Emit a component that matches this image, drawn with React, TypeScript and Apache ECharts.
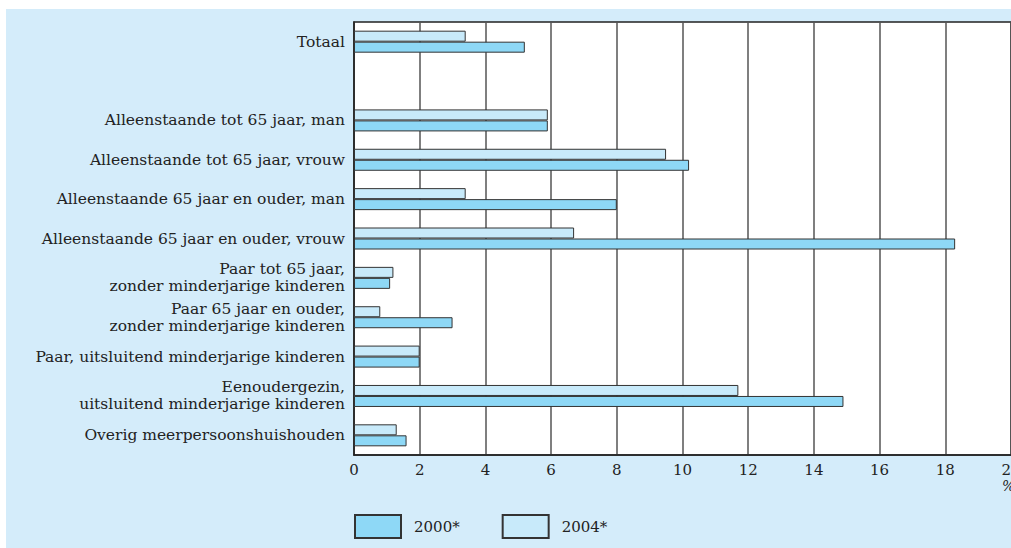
import React, { useEffect, useRef } from "react";
import * as echarts from "echarts";

const categories = [
  "Totaal",
  "",
  "Alleenstaande tot 65 jaar, man",
  "Alleenstaande tot 65 jaar, vrouw",
  "Alleenstaande 65 jaar en ouder, man",
  "Alleenstaande 65 jaar en ouder, vrouw",
  "Paar tot 65 jaar,\nzonder minderjarige kinderen",
  "Paar 65 jaar en ouder,\nzonder minderjarige kinderen",
  "Paar, uitsluitend minderjarige kinderen",
  "Eenoudergezin,\nuitsluitend minderjarige kinderen",
  "Overig meerpersoonshuishouden",
];

const values2000 = [5.2, null, 5.9, 10.2, 8.0, 18.3, 1.1, 3.0, 2.0, 14.9, 1.6];
const values2004 = [3.4, null, 5.9, 9.5, 3.4, 6.7, 1.2, 0.8, 2.0, 11.7, 1.3];

const xTicks = { min: 0, max: 20, interval: 2 };

const FONT = "DejaVu Serif";

export default function App() {
  const ref = useRef<HTMLDivElement>(null);
  useEffect(() => {
    const chart = echarts.init(ref.current!, null, { renderer: "svg" });
    chart.setOption({
      animation: false,
      backgroundColor: "#ffffff",
      graphic: [
        {
          type: "rect",
          z: -10,
          silent: true,
          shape: { x: 6, y: 9, width: 1005, height: 539 },
          style: { fill: "#d4ecfa" },
        },
        {
          type: "text",
          left: 1002,
          top: 479,
          style: { text: "%", font: `italic 14px "${FONT}"`, fill: "#222" },
        },
      ],
      grid: {
        left: 354,
        top: 22,
        right: 0,
        bottom: 93,
        outerBoundsMode: "none",
        containLabel: false,
        show: true,
        backgroundColor: "#ffffff",
        borderColor: "#222",
        borderWidth: 1.5,
      },
      legend: {
        left: 354,
        top: 514,
        padding: 0,
        itemWidth: 46,
        itemHeight: 23,
        itemGap: 42,
        icon: "rect",
        data: ["2000*", "2004*"],
        textStyle: {
          fontFamily: FONT,
          fontSize: 15,
          color: "#222",
          padding: [8, 0, 0, 8],
        },
      },
      xAxis: {
        type: "value",
        min: xTicks.min,
        max: xTicks.max,
        interval: xTicks.interval,
        axisLine: { show: true, lineStyle: { color: "#222", width: 1.5 } },
        axisTick: { show: false },
        axisLabel: {
          fontFamily: FONT,
          fontSize: 15,
          color: "#222",
          margin: 7,
          showMaxLabel: true,
        },
        splitLine: { show: true, lineStyle: { color: "#555", width: 1.5 } },
      },
      yAxis: {
        type: "category",
        inverse: true,
        data: categories,
        axisLine: { show: true, lineStyle: { color: "#222", width: 1.5 } },
        axisTick: { show: false },
        axisLabel: {
          fontFamily: FONT,
          fontSize: 15.5,
          color: "#222",
          margin: 9,
          lineHeight: 17,
          align: "right",
          interval: 0,
        },
      },
      series: [
        {
          name: "2004*",
          type: "bar",
          data: values2004,
          barWidth: 11,
          barGap: "0%",
          itemStyle: { color: "#c8eafa", borderColor: "#333", borderWidth: 1 },
        },
        {
          name: "2000*",
          type: "bar",
          data: values2000,
          barWidth: 11,
          barGap: "0%",
          itemStyle: { color: "#8ed8f6", borderColor: "#333", borderWidth: 1 },
        },
      ],
    });
    return () => chart.dispose();
  }, []);
  return (
    <div
      ref={ref}
      style={{ position: "absolute", left: 0, top: 0, width: 1011, height: 548 }}
    />
  );
}
